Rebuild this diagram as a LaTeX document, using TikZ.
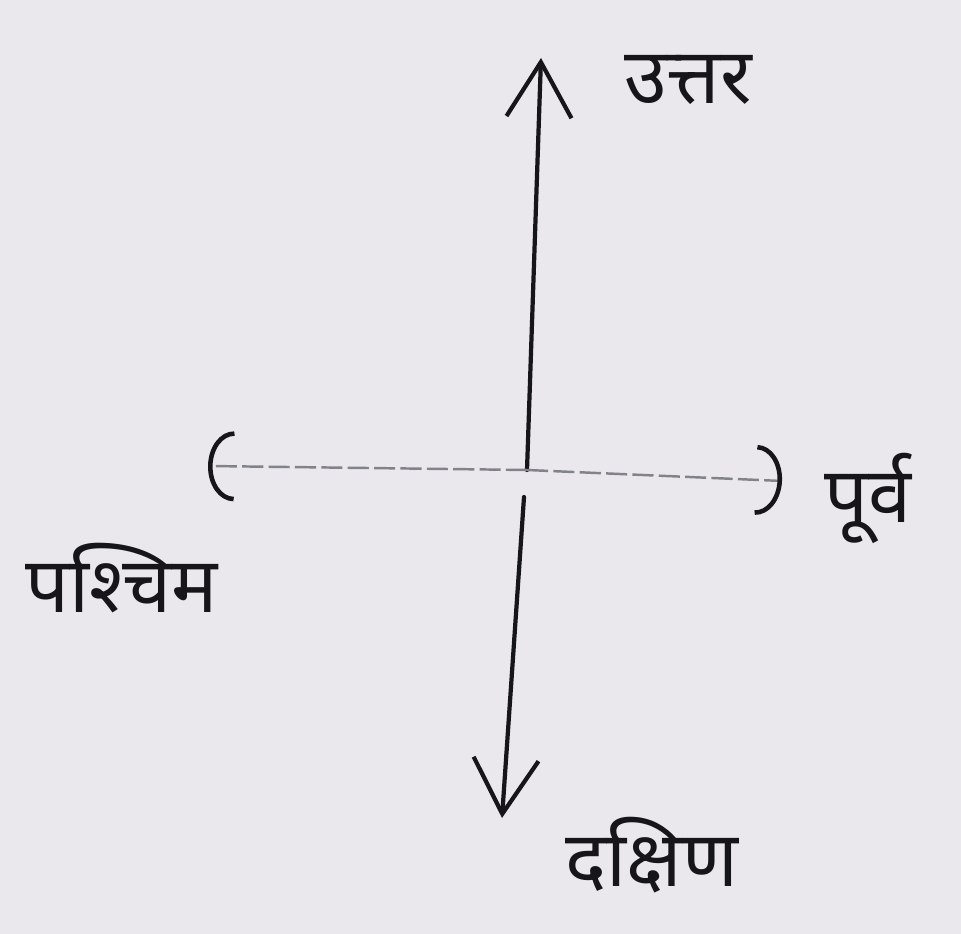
\documentclass[tikz,border=0pt]{standalone}
\usepackage{fontspec}
\newfontfamily\devfont[Script=Devanagari]{Noto Sans}
\usepackage{tikz}
\usetikzlibrary{arrows.meta,positioning}
\definecolor{dirpaper}{RGB}{234,232,236}
\definecolor{dirink}{RGB}{22,22,26}
\definecolor{dirfaint}{RGB}{130,130,138}
\tikzset{
  dirlabel/.style={text=dirink, font=\devfont\fontsize{22}{26}\selectfont, inner sep=2pt},
  dirvert/.style={dirink, line width=1.2pt, line cap=round,
    -{Straight Barb[length=5.5mm, width=6.5mm, line width=1.2pt]}},
  dirhorz/.style={dirfaint, line width=0.7pt, dash pattern=on 6pt off 1.5pt,
    -{Arc Barb[length=2.6mm, width=7mm, line width=1.3pt, color=dirink]}},
}

\begin{document}
\begin{tikzpicture}[x=0.01cm, y=-0.01cm]
  \fill[dirpaper] (0,0) rectangle (961,934);
  \useasboundingbox (0,0) rectangle (961,934);
  % centre and the four ends
  \coordinate (centre) at (527,470);
  \coordinate (lowstart) at (524,497);
  \coordinate (northend) at (541,58);
  \coordinate (southend) at (502,818);
  \coordinate (westend) at (208,466);
  \coordinate (eastend) at (782,481);
  \draw[dirvert] (centre) -- (northend);
  \draw[dirvert] (lowstart) -- (southend);
  \draw[dirhorz] (centre) -- (westend);
  \draw[dirhorz] (centre) -- (eastend);
  % labels
  \node[dirlabel] (uttar) at (688,80) {उत्तर};
  \node[dirlabel] (purv) at (868,498) {पूर्व};
  \node[dirlabel] (paschim) at (122,578) {पश्चिम};
  \node[dirlabel] (dakshin) at (652,855) {दक्षिण};
\end{tikzpicture}
\end{document}
